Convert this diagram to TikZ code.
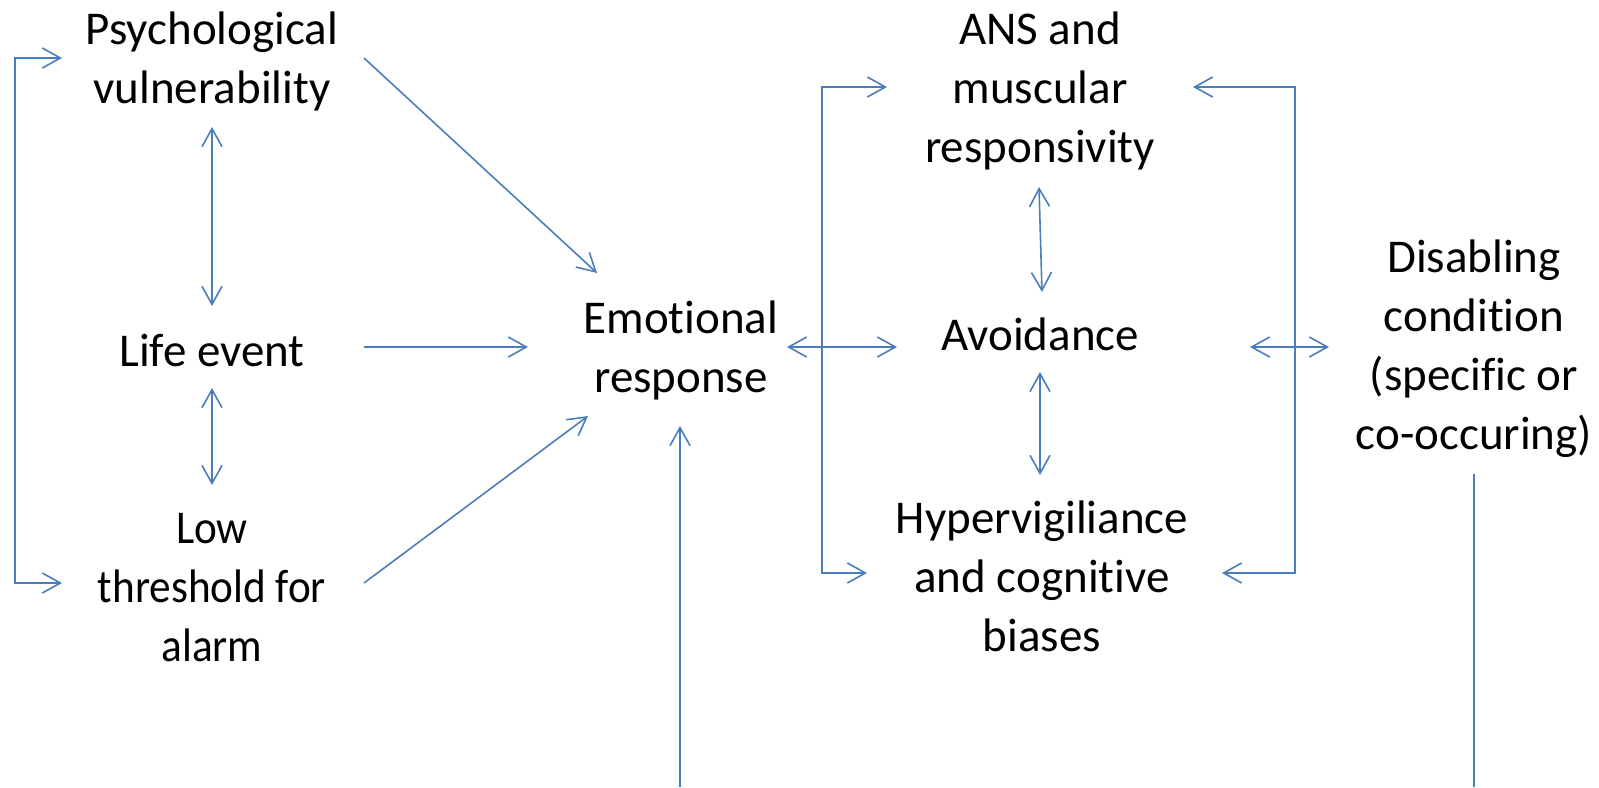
\documentclass[tikz,border=0pt]{standalone}
\usepackage{fontspec}
\setmainfont{Carlito}[Ligatures=NoCommon]
\newfontfamily\narrowfont{Carlito}[FakeStretch=0.92,Ligatures=NoCommon]
\usetikzlibrary{arrows.meta}
\definecolor{linkblue}{HTML}{4A7EBB}
\begin{document}
\begin{tikzpicture}[x=0.5pt,y=-0.5pt,
  lbl/.style={align=center,inner sep=0pt,font=\fontsize{23.5}{29.5}\selectfont},
  link/.style={draw=linkblue,line width=0.8pt},
  fwd/.style={link,-{Straight Barb[length=9pt,width=10pt]}},
  both/.style={link,{Straight Barb[length=9pt,width=10pt]}-{Straight Barb[length=9pt,width=10pt]}}]
\useasboundingbox (0,0) rectangle (1599,787);

\node[lbl] (psy) at (212,61) {Psychological\\vulnerability};
\node[lbl] (life) at (212,350) {Life event};
\node[lbl,font=\fontsize{23.5}{29.5}\narrowfont] (low) at (212,588) {Low\\threshold for\\alarm};
\node[lbl] (emo) at (681,350) {Emotional\\response};
\node[lbl] (ans) at (1040,91) {ANS and\\muscular\\responsivity};
\node[lbl] (avoid) at (1040,334) {Avoidance};
\node[lbl] (hyper) at (1042,576) {Hypervigiliance\\and cognitive\\biases};
\node[lbl] (dis) at (1474,349) {Disabling\\condition\\(specific or\\co-occuring)};

\coordinate (emofoot) at (680,787);
\coordinate (disfoot) at (1474,787);

% left group
\draw[both] ([shift={(-150,-3)}]psy.center) -- ++(-47,0) |- ([shift={(-150,-5)}]low.center);
\draw[both] ([shift={(0,66)}]psy.center) -- ([shift={(0,-44)}]life.center);
\draw[both] ([shift={(0,38)}]life.center) -- ([shift={(0,-103)}]low.center);
\draw[fwd] ([shift={(152,-3)}]psy.center) -- ([shift={(-84,-77)}]emo.center);
\draw[fwd] ([shift={(152,-3)}]life.center) -- ([shift={(-153,-3)}]emo.center);
\draw[fwd] ([shift={(152,-5)}]low.center) -- ([shift={(-93,66)}]emo.center);
\draw[fwd] (emofoot) -- ([shift={(-1,76)}]emo.center);

% right group
\draw[both] ([shift={(106,-3)}]emo.center) -- ([shift={(-143,13)}]avoid.center);
\draw[both] ([shift={(-153,-4)}]ans.center) -- ++(-65,0) |- ([shift={(-175,-3)}]hyper.center);
\draw[both] ([shift={(-1,96)}]ans.center) -- ([shift={(2,-42)}]avoid.center);
\draw[both] ([shift={(0,38)}]avoid.center) -- ([shift={(-2,-101)}]hyper.center);
\draw[both] ([shift={(153,-4)}]ans.center) -- ++(102,0) |- ([shift={(180,-3)}]hyper.center);
\draw[both] ([shift={(210,13)}]avoid.center) -- ([shift={(-145,-2)}]dis.center);
\draw[link] ([shift={(0,125)}]dis.center) -- (disfoot);
\end{tikzpicture}
\end{document}
